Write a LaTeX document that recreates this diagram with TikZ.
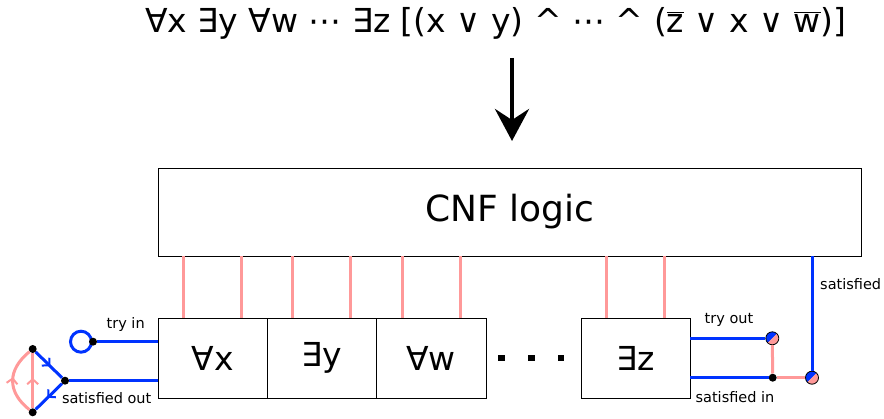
\documentclass[tikz,border=0pt]{standalone}
\usepackage{fontspec}
\setmainfont{DejaVu Sans}
\usetikzlibrary{arrows.meta,positioning,decorations.markings}
\definecolor{wireblue}{RGB}{0,51,255}
\definecolor{wirepink}{RGB}{255,153,153}
\newcommand{\negvar}[1]{\ensuremath{\overline{\hbox{#1}}}}

\tikzset{
  gate/.style={draw,line width=0.8pt,minimum width=109pt,minimum height=80pt,inner sep=0pt,font=\fontsize{33}{33}\selectfont},
  blueline/.style={draw=wireblue,line width=3pt},
  pinkline/.style={draw=wirepink,line width=3pt},
  dot/.style={circle,fill=black,inner sep=0pt,minimum size=8pt},
  halfdot/.style={circle,draw=black,line width=0.8pt,inner sep=0pt,minimum size=13pt,
    path picture={
      \fill[wireblue] (path picture bounding box.south west) -- (path picture bounding box.north west) -- (path picture bounding box.north east) -- cycle;
      \fill[wirepink] (path picture bounding box.south west) -- (path picture bounding box.south east) -- (path picture bounding box.north east) -- cycle;
    }},
  lbl/.style={font=\fontsize{14.5}{14.5}\selectfont,inner sep=1pt},
  midarrow/.style={postaction={decorate},decoration={markings,mark=at position 0.55 with {\arrow{Straight Barb[length=5pt,width=11pt,line width=2pt]}}}},
}

\begin{document}
\begin{tikzpicture}[x=1pt,y=-1pt]
        \useasboundingbox (0,0) rectangle (884,419);

        % formula and reduction arrow
        \node (formula) at (496,23) {\fontsize{33}{33}\selectfont ∀x ∃y ∀w ⋯ ∃z [(x ∨ y) \textasciicircum{} ⋯ \textasciicircum{} (\negvar{z} ∨ x ∨ \negvar{w})]};
        \coordinate (arrtop) at (512,58);
        \coordinate (arrbot) at (512,141);
        \draw[-{Stealth[length=32pt,width=34pt,inset=11pt]},line width=4.5pt] (arrtop) -- (arrbot);

        % logic blocks
        \node[draw,line width=0.8pt,minimum width=703pt,minimum height=88pt,font=\fontsize{36}{36}\selectfont] (cnf) at (509.5,212) {CNF logic};
        \node[gate] (qx) at (212.5,358) {∀x};
        \node[gate] (qy) at (321.5,358) {∃y};
        \node[gate,minimum width=110pt] (qw) at (431,358) {∀w};
        \node[gate] (qz) at (635.5,358) {∃z};
        \foreach \px in {501.7,531.3,561} \node[fill=black,inner sep=0pt,minimum size=6.5pt] at (\px,358) {};

        \foreach \q in {qx,qy,qw,qz}
          \foreach \d in {-29,29}
            \draw[pinkline] ([xshift=\d pt]\q.north) -- ([xshift=\d pt]\q.north |- cnf.south);

        % left side
        \node[circle,draw=wireblue,line width=3pt,minimum size=21pt,inner sep=0pt] (tryin) at (81,341.7) {};
        \node[dot] (tin) at (tryin.east) {};
        \node[dot] (sout) at (65,380.7) {};
        \node[dot] (ttop) at (32.7,349) {};
        \node[dot] (tbot) at (32.7,412.3) {};

        \draw[blueline] (tin) -- (qx.west |- tin);
        \draw[blueline] (sout) -- (qx.west |- sout);
        \draw[blueline,midarrow] (ttop) -- (sout);
        \draw[blueline,midarrow] (sout) -- (tbot);
        \draw[pinkline,midarrow] (tbot) -- (ttop);
        \draw[pinkline,midarrow] (tbot) .. controls (7,392) and (7,370) .. (ttop);

        \node[lbl] (lbltryin) at (125.7,325) {try in};
        \node[lbl] (lblsatout) at (106.7,397.7) {satisfied out};

        % right side
        \node[halfdot] (tout) at (772.3,338.3) {};
        \node[dot] (sin) at (772.7,377.7) {};
        \node[halfdot] (sat) at (812,377.7) {};

        \draw[blueline] (qz.east |- tout) -- (tout);
        \draw[blueline] (qz.east |- sin) -- (sin);
        \draw[pinkline] (tout) -- (sin);
        \draw[pinkline] (sin) -- (sat);
        \draw[blueline] (cnf.south -| sat) -- (sat);

        \node[lbl] (lbltryout) at (729,320) {try out};
        \node[lbl] (lblsatin) at (735,396.7) {satisfied in};
        \node[lbl,anchor=west] (lblsat) at (819,284) {satisfied};
    \end{tikzpicture}
\end{document}
